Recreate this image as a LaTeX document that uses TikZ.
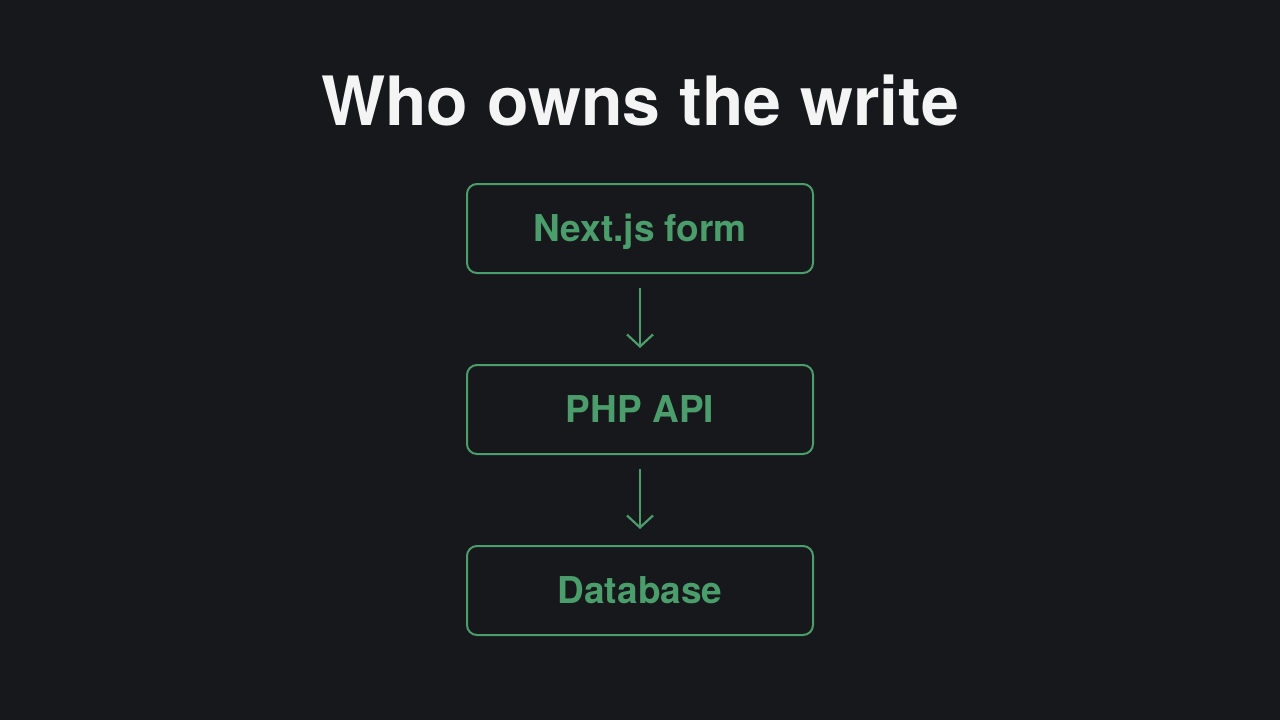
\documentclass[tikz,border=0pt]{standalone}
\usepackage{fontspec}
\setmainfont{TeX Gyre Heros}
\usetikzlibrary{arrows.meta}
\definecolor{bg}{HTML}{17181C}
\definecolor{grn}{HTML}{4B9E6B}
\definecolor{ttl}{HTML}{F4F4F5}
\tikzset{
  box/.style={draw=grn, line width=2pt, rounded corners=10pt, minimum width=346pt, minimum height=89pt, inner sep=0pt, text height=39pt, text depth=13pt, text=grn, font=\fontsize{37}{44}\selectfont\bfseries},
  flow/.style={draw=grn, line width=2.2pt, -{Straight Barb[length=12pt,width=26pt,line width=2.2pt]}}
}
\begin{document}
\begin{tikzpicture}[x=1pt,y=-1pt]
\fill[bg] (0,0) rectangle (1280,720);
\useasboundingbox (0,0) rectangle (1280,720);
\node[text=ttl, font=\fontsize{68}{80}\selectfont\bfseries] (title) at (640,100) {Who owns the write};
\node[box] (a) at (640,228.5) {Next.js form};
\node[box] (b) at (640,409.5) {PHP API};
\node[box] (c) at (640,590.5) {Database};
\draw[flow] ([yshift=-14pt]a.south) -- ([yshift=16pt]b.north);
\draw[flow] ([yshift=-14pt]b.south) -- ([yshift=16pt]c.north);
\end{tikzpicture}
\end{document}
